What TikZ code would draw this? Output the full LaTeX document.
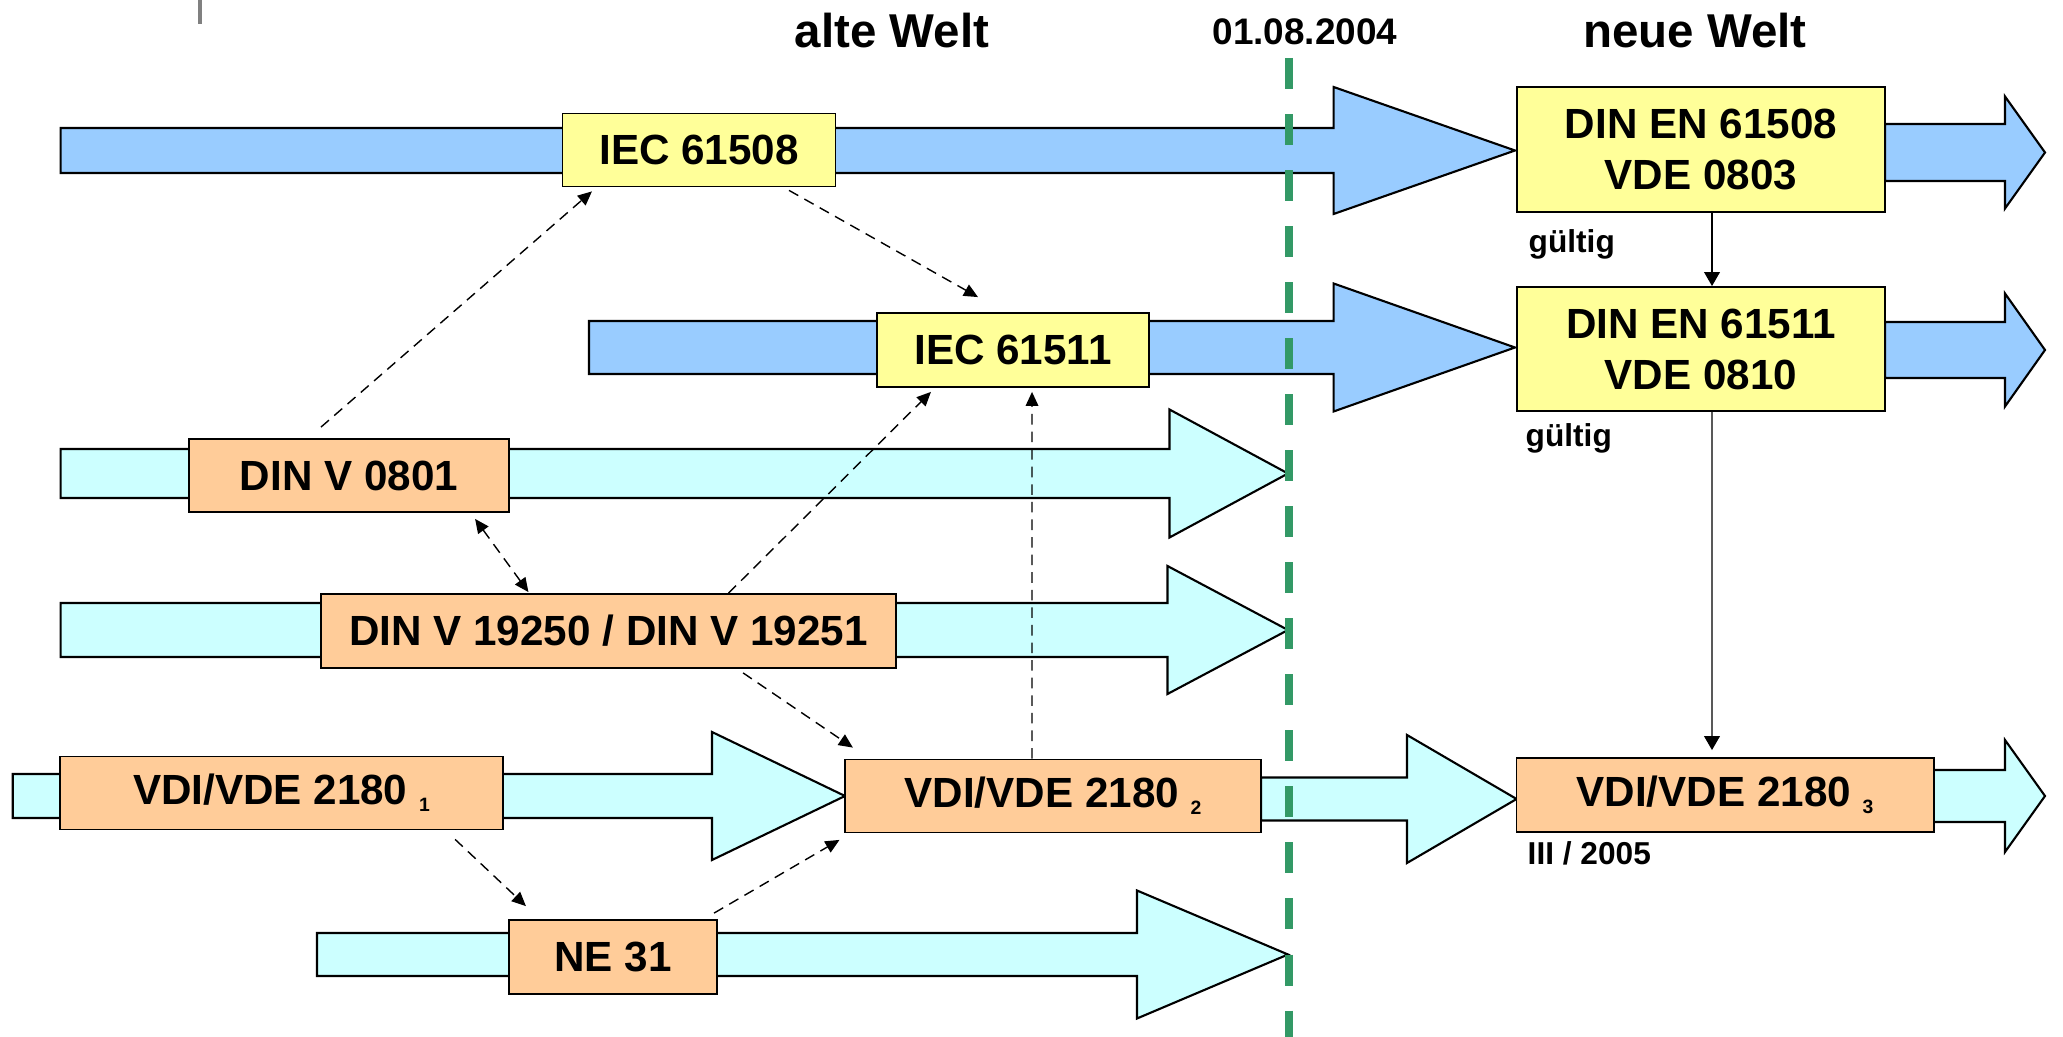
\documentclass[tikz,border=0pt]{standalone}
\usepackage{fontspec}
\setmainfont{Liberation Sans}
\usetikzlibrary{arrows.meta}
\definecolor{barblue}{HTML}{99CCFF}
\definecolor{barcyan}{HTML}{CCFFFF}
\definecolor{paleyellow}{HTML}{FFFF99}
\definecolor{paleorange}{HTML}{FFCC99}
\definecolor{deadgreen}{HTML}{339966}
\tikzset{
  normbox/.style={rectangle, draw=black, line width=0.5pt, minimum height=0.73cm,
    inner sep=0pt, align=center, font=\fontsize{12}{14.5}\selectfont\bfseries},
  normboxY/.style={normbox, fill=paleyellow},
  normboxO/.style={normbox, fill=paleorange},
  barB/.style={draw=black, line width=0.6pt, fill=barblue},
  barC/.style={draw=black, line width=0.6pt, fill=barcyan},
  arrow/.style={-{Triangle[length=4pt, width=4.5pt]}, line width=0.4pt},
  arrowd/.style={-{Triangle[length=4pt, width=3.6pt]}, line width=0.4pt, dash pattern=on 3pt off 2pt},
  arrowdd/.style={arrowd, {Triangle[length=4pt, width=3.6pt]}-{Triangle[length=4pt, width=3.6pt]}},
  heading/.style={font=\fontsize{13.5}{16}\selectfont\bfseries},
  smallnote/.style={font=\fontsize{9}{11}\selectfont\bfseries, inner sep=0pt},
  deadline/.style={draw=deadgreen, line width=0.08cm, dash pattern=on 0.31cm off 0.25cm},
}
% block arrow: style, x start, x head, x tip, y, half shaft, half head
\newcommand{\bigarrow}[7]{%
  \draw[#1] (#2,#5-#6) -- (#3,#5-#6) -- (#3,#5-#7) -- (#4,#5)
    -- (#3,#5+#7) -- (#3,#5+#6) -- (#2,#5+#6) -- cycle;}
\newcommand{\lowidx}[1]{\raisebox{-2pt}{\fontsize{5.5}{6}\selectfont #1}}

\begin{document}
\begin{tikzpicture}[x=0.01cm, y=-0.01cm]
\useasboundingbox (0,0) rectangle (2063,1037);
\draw[gray, line width=0.04cm] (199.5,0) -- (199.5,24);

% headings
\node[heading, anchor=base] (old) at (892,48) {alte Welt};
\node[font=\fontsize{10.5}{12}\selectfont\bfseries, anchor=base] (date) at (1305,45) {01.08.2004};
\node[heading, anchor=base] (new) at (1695,48) {neue Welt};

% block arrows
\bigarrow{barB}{60.6}{1333.6}{1515}{150.5}{22.5}{63.5}
\bigarrow{barB}{1885}{2005}{2045}{152.5}{28.5}{56}
\bigarrow{barB}{589}{1333.6}{1515}{347.5}{26.5}{64}
\bigarrow{barB}{1885}{2005}{2045}{350}{28}{56.5}
\bigarrow{barC}{60.6}{1169.5}{1288}{473.5}{24.5}{64}
\bigarrow{barC}{60.6}{1167.5}{1288}{630}{27}{64}
\bigarrow{barC}{12.8}{712}{845}{796}{22}{64}
\bigarrow{barC}{1261}{1407}{1516.6}{799}{21.5}{64}
\bigarrow{barC}{1933.6}{2005}{2045}{796}{26}{56}
\bigarrow{barC}{317}{1137}{1288}{954.5}{21.5}{64}

\draw[deadline] (1289,58) -- (1289,1037);

% norms
\node[normboxY, minimum width=2.73cm] (iecA) at (699,150) {IEC 61508};
\node[normboxY, minimum width=2.72cm, minimum height=0.74cm] (iecB) at (1013,350) {IEC 61511};
\node[normboxY, minimum width=3.68cm, minimum height=1.25cm] (dinA) at (1701,149.5) {DIN EN 61508\\VDE 0803};
\node[normboxY, minimum width=3.68cm, minimum height=1.24cm] (dinB) at (1701,349) {DIN EN 61511\\VDE 0810};
\node[normboxO, minimum width=3.2cm] (v0801) at (349,475.5) {DIN V 0801};
\node[normboxO, minimum width=5.75cm, minimum height=0.74cm] (v19250) at (608.5,631) {DIN V 19250 / DIN V 19251};
\node[normboxO, minimum width=4.42cm] (vdiA) at (281.5,793) {VDI/VDE 2180 \lowidx{1}};
\node[normboxO, minimum width=4.16cm] (vdiB) at (1053,796) {VDI/VDE 2180 \lowidx{2}};
\node[normboxO, minimum width=4.17cm, minimum height=0.74cm] (vdiC) at (1725,795) {VDI/VDE 2180 \lowidx{3}};
\node[normboxO, minimum width=2.08cm, minimum height=0.74cm] (ne31) at (613,957) {NE 31};

\node[smallnote, anchor=base west] (valA) at (1528,253) {gültig};
\node[smallnote, anchor=base west] (valB) at (1525,447) {gültig};
\node[smallnote, anchor=base west] (since) at (1527,865) {III / 2005};

\draw[arrowd] ([xshift=-0.28cm, yshift=0.11cm]v0801.north) -- ([xshift=-1.07cm, yshift=-0.04cm]iecA.south);
\draw[arrowd] ([xshift=0.9cm, yshift=-0.03cm]iecA.south) -- ([xshift=-0.35cm, yshift=0.15cm]iecB.north);
\draw[arrowdd] ([xshift=1.26cm, yshift=-0.06cm]v0801.south) -- ([xshift=-0.8cm, yshift=0.01cm]v19250.north);
\draw[arrowd] ([xshift=1.2cm]v19250.north) -- ([xshift=-0.82cm, yshift=-0.04cm]iecB.south);
\draw[arrowd] ([xshift=1.345cm, yshift=-0.04cm]v19250.south) -- ([xshift=-2cm, yshift=0.11cm]vdiB.north);
\draw[arrowd] ([xshift=-0.21cm]vdiB.north) -- ([xshift=0.19cm, yshift=-0.04cm]iecB.south);
\draw[arrowd] ([xshift=1.735cm, yshift=-0.09cm]vdiA.south) -- ([xshift=-0.87cm, yshift=0.13cm]ne31.north);
\draw[arrowd] ([xshift=1.01cm, yshift=0.06cm]ne31.north) -- ([xshift=-0.045cm, yshift=-0.065cm]vdiB.south west);
\draw[arrow] ([xshift=0.11cm]dinA.south) -- ([xshift=0.11cm]dinB.north);
\draw[arrow] ([xshift=0.11cm]dinB.south) -- ([xshift=-0.13cm, yshift=0.07cm]vdiC.north);
\end{tikzpicture}
\end{document}
